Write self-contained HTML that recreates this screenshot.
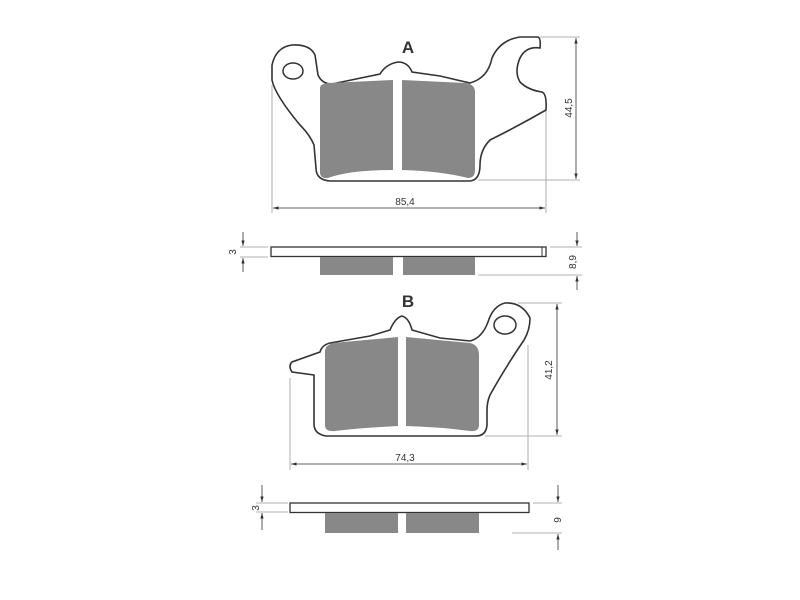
<!DOCTYPE html>
<html><head><style>html,body{margin:0;padding:0;background:#fff;}svg{display:block}</style></head>
<body>
<svg width="800" height="600" viewBox="0 0 800 600" xmlns="http://www.w3.org/2000/svg" font-family="Liberation Sans, sans-serif">
<defs>
<marker id="ar" viewBox="0 0 10 10" refX="10" refY="5" markerWidth="7" markerHeight="7" orient="auto-start-reverse"><path d="M0,2 L10,5 L0,8 z" fill="#333"/></marker>
</defs>
<g fill="none" stroke="#999" stroke-width="0.8">
<!-- A dims ext -->
<line x1="540" y1="37" x2="580" y2="37"/><line x1="478" y1="180" x2="580" y2="180"/>
<line x1="272" y1="85" x2="272" y2="213"/><line x1="546" y1="110" x2="546" y2="213"/>
<line x1="240" y1="247" x2="268" y2="247"/><line x1="240" y1="257" x2="268" y2="257"/>
<line x1="550" y1="247" x2="582" y2="247"/><line x1="478" y1="275" x2="582" y2="275"/>
<!-- B -->
<line x1="518" y1="303" x2="562" y2="303"/><line x1="485" y1="436" x2="562" y2="436"/>
<line x1="290" y1="378" x2="290" y2="470"/><line x1="528" y1="345" x2="528" y2="470"/>
<line x1="256" y1="503" x2="288" y2="503"/><line x1="256" y1="512" x2="288" y2="512"/>
<line x1="533" y1="503" x2="562" y2="503"/><line x1="512" y1="533" x2="562" y2="533"/>
</g>
<g stroke="#333" stroke-width="0.8" fill="none">
<line x1="576" y1="38" x2="576" y2="179" marker-start="url(#ar)" marker-end="url(#ar)"/>
<line x1="273" y1="208" x2="545" y2="208" marker-start="url(#ar)" marker-end="url(#ar)"/>
<line x1="243" y1="232" x2="243" y2="246" marker-end="url(#ar)"/><line x1="243" y1="272" x2="243" y2="258" marker-end="url(#ar)"/>
<line x1="577" y1="232" x2="577" y2="246" marker-end="url(#ar)"/><line x1="577" y1="290" x2="577" y2="276" marker-end="url(#ar)"/>
<line x1="557" y1="304" x2="557" y2="435" marker-start="url(#ar)" marker-end="url(#ar)"/>
<line x1="291" y1="464" x2="527" y2="464" marker-start="url(#ar)" marker-end="url(#ar)"/>
<line x1="262" y1="485" x2="262" y2="502" marker-end="url(#ar)"/><line x1="262" y1="530" x2="262" y2="513" marker-end="url(#ar)"/>
<line x1="558" y1="485" x2="558" y2="502" marker-end="url(#ar)"/><line x1="558" y1="550" x2="558" y2="534" marker-end="url(#ar)"/>
</g>
<!-- Pad A -->
<path d="M272,80 L272,65 Q276,47 292,45 Q310,44 315,55 L318,75 Q322,84 332,84 L380,74 Q386,64 398,62 Q408,62 412,72 L440,76 L470,83 Q488,78 492,58 Q500,40 520,37 L538,37 Q541,38 540,48 Q526,46 520,58 Q514,72 520,82 Q528,90 542,92 Q547,94 546,110 Q520,125 490,140 Q480,150 480,165 Q480,180 470,181 L330,181 Q316,180 316,168 L314,145 Q310,135 300,125 Q275,95 272,80 Z" fill="#fff" stroke="#333" stroke-width="1.6"/>
<ellipse cx="293" cy="71" rx="10" ry="8" fill="#fff" stroke="#333" stroke-width="1.5"/>
<path d="M320,88 Q320,84 328,83 L393,80 L393,170 Q350,170 328,178 Q320,179 320,172 Z" fill="#888"/>
<path d="M402,80 L465,83 Q475,84 475,92 L475,170 Q475,178 468,178 Q440,171 402,170 Z" fill="#888"/>
<text x="408" y="53" font-size="17" font-weight="bold" text-anchor="middle" fill="#333">A</text>
<text x="405" y="205" font-size="10" text-anchor="middle" fill="#333">85,4</text>
<text transform="translate(572,108) rotate(-90)" font-size="10" text-anchor="middle" fill="#333">44,5</text>
<!-- side A -->
<rect x="271" y="247" width="275" height="9.5" fill="#fff" stroke="#333" stroke-width="1.3"/>
<line x1="542" y1="247" x2="542" y2="256" stroke="#333" stroke-width="1"/>
<rect x="320" y="257" width="73" height="18" fill="#888"/><rect x="403" y="257" width="72" height="18" fill="#888"/>
<text transform="translate(236,252) rotate(-90)" font-size="10" text-anchor="middle" fill="#333">3</text>
<text transform="translate(576,262) rotate(-90)" font-size="10" text-anchor="middle" fill="#333">8,9</text>
<!-- Pad B -->
<path d="M314,375 L292,372 Q288,366 292,362 L320,352 Q322,345 330,343 L370,336 L390,330 Q395,318 402,316 Q409,318 412,330 L440,338 L470,341 Q482,338 488,322 Q493,306 505,303 Q522,302 530,318 Q530,330 524,340 Q505,368 490,395 Q487,402 487,410 L487,425 Q486,436 476,436 L326,436 Q314,434 314,424 Z" fill="#fff" stroke="#333" stroke-width="1.6"/>
<ellipse cx="505" cy="325" rx="11" ry="9" fill="#fff" stroke="#333" stroke-width="1.5"/>
<path d="M325,350 Q326,345 333,343 L398,337 L398,426 Q360,428 335,431 Q325,432 325,425 Z" fill="#888"/>
<path d="M406,337 L470,343 Q479,345 479,355 L479,425 Q479,432 470,431 Q440,427 406,426 Z" fill="#888"/>
<text x="408" y="307" font-size="17" font-weight="bold" text-anchor="middle" fill="#333">B</text>
<text x="405" y="461" font-size="10" text-anchor="middle" fill="#333">74,3</text>
<text transform="translate(552,370) rotate(-90)" font-size="10" text-anchor="middle" fill="#333">41,2</text>
<!-- side B -->
<rect x="290" y="503" width="239" height="9.5" fill="#fff" stroke="#333" stroke-width="1.3"/>
<rect x="325" y="513" width="73" height="20" fill="#888"/><rect x="406" y="513" width="73" height="20" fill="#888"/>
<text transform="translate(259,508) rotate(-90)" font-size="10" text-anchor="middle" fill="#333">3</text>
<text transform="translate(561,520) rotate(-90)" font-size="10" text-anchor="middle" fill="#333">9</text>
</svg>
</body></html>
